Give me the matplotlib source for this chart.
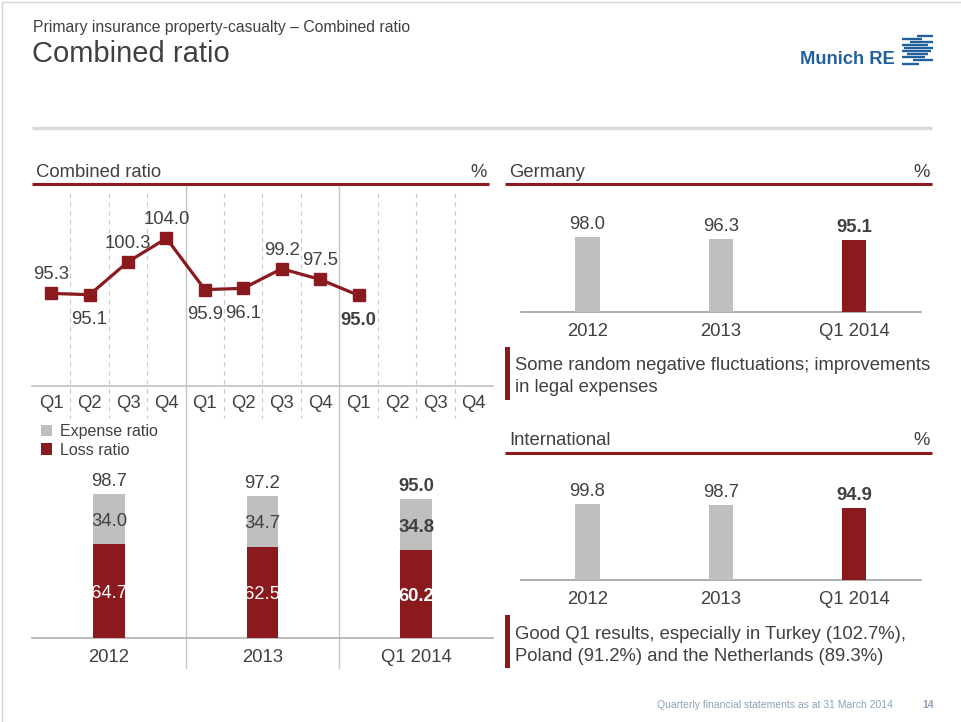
import matplotlib
matplotlib.use('Agg')
import matplotlib.pyplot as plt
from matplotlib.patches import Rectangle
import matplotlib.transforms as mtrans

plt.rcParams['font.family'] = ['Liberation Sans', 'DejaVu Sans']

# ---------------- data ----------------
quarter_labels = ['Q1', 'Q2', 'Q3', 'Q4', 'Q1', 'Q2', 'Q3', 'Q4', 'Q1', 'Q2', 'Q3', 'Q4']
quarterly_cr = [95.3, 95.1, 100.3, 104.0, 95.9, 96.1, 99.2, 97.5, 95.0]
label_side = ['above', 'below', 'above', 'above', 'below', 'below', 'above', 'above', 'below']

years = ['2012', '2013', 'Q1 2014']
loss_ratio = [64.7, 62.5, 60.2]
expense_ratio = [34.0, 34.7, 34.8]
combined_ratio = [98.7, 97.2, 95.0]

germany_cr = [98.0, 96.3, 95.1]
international_cr = [99.8, 98.7, 94.9]

# ---------------- style ----------------
RED = '#8b1a1f'
GREY_BAR = '#bfbfbf'
TXT = '#404040'
SEP = '#c4c4c4'
FS = 13.3
DY = 2.2  # visual centring correction (pixels)

W, H = 961, 722
fig = plt.figure(figsize=(W / 100, H / 100), dpi=100)
fig.patch.set_facecolor('white')


def ax_px(x0, y0, x1, y1):
    a = fig.add_axes([x0 / W, 1 - y1 / H, (x1 - x0) / W, (y1 - y0) / H])
    a.set_facecolor('none')
    return a


deco = fig.add_axes([0, 0, 1, 1])
deco.set_xlim(0, W)
deco.set_ylim(H, 0)
deco.axis('off')


def dtext(x, y, s, **kw):
    kw.setdefault('va', 'center')
    kw.setdefault('color', TXT)
    kw.setdefault('fontsize', FS)
    return deco.text(x, y + DY, s, **kw)


# slide frame
deco.plot([2, 2], [2, H], color='#d4d4d4', lw=1)
deco.plot([2, W], [2, 2], color='#d4d4d4', lw=1)

# header
dtext(33, 25, 'Primary insurance property-casualty – Combined ratio', fontsize=11.3)
dtext(32, 52, 'Combined ratio', fontsize=21)
deco.plot([32, 932], [128, 128], color='#d9d9d9', lw=2.5, solid_capstyle='butt')

# logo
dtext(895, 57, 'Munich RE', ha='right', fontsize=13.2, color='#21609a', fontweight='bold')
stripes = [(35.7, 917, 933), (38.5, 902, 922), (42.3, 910, 933), (45.3, 902, 928),
           (48.3, 904, 933), (51.3, 902, 931), (54.3, 907, 928), (57.3, 902, 925),
           (60.3, 913, 933), (63.5, 902, 919)]
for yy, xa, xb in stripes:
    deco.plot([xa, xb], [yy, yy], color='#21609a', lw=1.7, solid_capstyle='butt')


# section headers
def section(x0, x1, ytxt, yline, title):
    dtext(x0 + 4, ytxt, title)
    dtext(x1 - 2, ytxt, '%', ha='right')
    deco.plot([x0, x1], [yline, yline], color=RED, lw=2.2, solid_capstyle='butt')


section(32, 489, 170, 184, 'Combined ratio')
section(505, 932, 170, 184, 'Germany')
section(505, 932, 438.5, 452.5, 'International')

# comment boxes
deco.add_patch(Rectangle((505, 347), 5, 53, color=RED, lw=0))
dtext(515, 363, 'Some random negative fluctuations; improvements')
dtext(515, 385, 'in legal expenses')
deco.add_patch(Rectangle((505, 615), 5, 53, color=RED, lw=0))
dtext(515, 632, 'Good Q1 results, especially in Turkey (102.7%),')
dtext(515, 654.5, 'Poland (91.2%) and the Netherlands (89.3%)')

# footer
dtext(893, 703, 'Quarterly financial statements as at 31 March 2014', ha='right',
      fontsize=7.5, color='#8da2b5')
dtext(934, 703, '14', ha='right', fontsize=7.5, color='#8da2b5', fontweight='bold')


def clean(a, base_color='#b0b0b0'):
    for s in ['top', 'right', 'left']:
        a.spines[s].set_visible(False)
    a.spines['bottom'].set_color(base_color)
    a.spines['bottom'].set_linewidth(1.2)
    a.set_yticks([])
    a.tick_params(axis='x', length=0, labelsize=FS, labelcolor=TXT)


# ---------------- quarterly line chart ----------------
ax1 = ax_px(32, 186, 493, 386)
ax1.set_xlim(-0.5, 11.5)
ax1.set_ylim(80.68, 112.26)
clean(ax1, '#c0c0c0')
ax1.set_xticks(range(len(quarter_labels)))
ax1.set_xticklabels(quarter_labels)
ax1.tick_params(axis='x', pad=6.8)

xs = list(range(len(quarterly_cr)))
ax1.plot(xs, quarterly_cr, color=RED, lw=2.3, marker='s', ms=8.5, zorder=4, clip_on=False)
for i, (x, v, side) in enumerate(zip(xs, quarterly_cr, label_side)):
    dy = 18.5 if side == 'above' else -25
    bold = (i == len(quarterly_cr) - 1)
    ax1.annotate(f'{v:.1f}', (x, v), xytext=(0, dy), textcoords='offset pixels',
                 ha='center', va='center', fontsize=FS, color=TXT,
                 fontweight='bold' if bold else 'normal')

tr = mtrans.blended_transform_factory(ax1.transData, deco.transData)
for b in [0.5, 1.5, 2.5, 4.5, 5.5, 6.5, 8.5, 9.5, 10.5]:
    ax1.plot([b, b], [193, 418], transform=tr, color='#c8c8c8', lw=0.8,
             linestyle=(0, (4, 4)), clip_on=False, zorder=1)
for b in [3.5, 7.5]:
    ax1.plot([b, b], [186, 668], transform=tr, color=SEP, lw=1.0, clip_on=False, zorder=1)

# ---------------- stacked annual bars ----------------
ax2 = ax_px(32, 465, 493, 638.3)
ax2.set_xlim(-0.5, 2.5)
ax2.set_ylim(0, (638.3 - 465) / 1.462)
clean(ax2, '#b0b0b0')
xb = list(range(len(years)))
bl = ax2.bar(xb, loss_ratio, width=0.208, color=RED, label='Loss ratio', zorder=3)
be = ax2.bar(xb, expense_ratio, bottom=loss_ratio, width=0.208, color=GREY_BAR,
             label='Expense ratio', zorder=3)
ax2.set_xticks(xb)
ax2.set_xticklabels(years)
ax2.tick_params(axis='x', pad=7.8)
for i in xb:
    w = 'bold' if i == len(years) - 1 else 'normal'
    ax2.annotate(f'{loss_ratio[i]:.1f}', (i, loss_ratio[i] / 2), xytext=(0, -DY),
                 textcoords='offset pixels', ha='center', va='center',
                 fontsize=FS, color='white', fontweight=w)
    ax2.annotate(f'{expense_ratio[i]:.1f}', (i, loss_ratio[i] + expense_ratio[i] / 2),
                 xytext=(0, -DY), textcoords='offset pixels', ha='center',
                 va='center', fontsize=FS, color=TXT, fontweight=w)
    ax2.annotate(f'{combined_ratio[i]:.1f}', (i, loss_ratio[i] + expense_ratio[i]),
                 xytext=(0, 13), textcoords='offset pixels', ha='center', va='center',
                 fontsize=FS, color=TXT, fontweight=w)
fig.legend(handles=[be, bl], labels=['Expense ratio', 'Loss ratio'], loc='upper left',
           bbox_to_anchor=(41 / W, 1 - 424 / H), frameon=False, fontsize=11.5,
           handlelength=0.7, handleheight=0.7, handletextpad=0.5, labelspacing=0.22,
           borderpad=0, borderaxespad=0, labelcolor=TXT)


# ---------------- Germany / International ----------------
def simple_bars(a, vals, ytop):
    a.set_xlim(-0.5, 2.5)
    a.set_ylim(0, ytop)
    clean(a, '#a0a0a0')
    xx = list(range(len(vals)))
    cols = [GREY_BAR] * (len(vals) - 1) + [RED]
    a.bar(xx, vals, width=0.182, color=cols, zorder=3)
    a.set_xticks(xx)
    a.set_xticklabels(years)
    a.tick_params(axis='x', pad=7.8)
    for i, v in enumerate(vals):
        w = 'bold' if i == len(vals) - 1 else 'normal'
        a.annotate(f'{v:.1f}', (i, v), xytext=(0, 12.5), textcoords='offset pixels',
                   ha='center', va='center', fontsize=FS, color=TXT, fontweight=w)


ax3 = ax_px(520.7, 200, 920.7, 312.3)
simple_bars(ax3, germany_cr, 112.3 / 0.765)
ax4 = ax_px(520.7, 470, 920.7, 580)
simple_bars(ax4, international_cr, 110 / 0.762)

fig.savefig('out.png', dpi=100, facecolor='white')
